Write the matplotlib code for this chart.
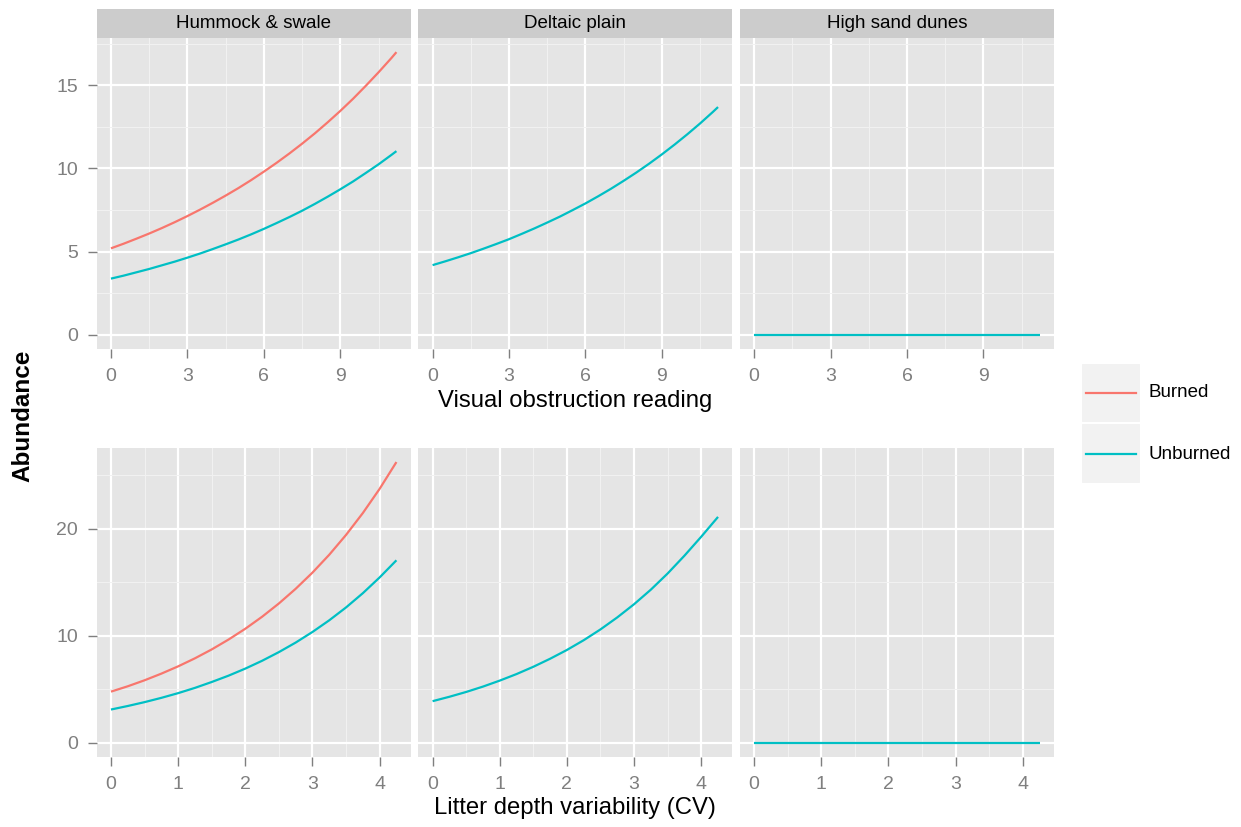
import matplotlib
matplotlib.use("Agg")
import matplotlib.pyplot as plt
from matplotlib.patches import Rectangle

plt.rcParams["font.family"] = ["Liberation Sans", "DejaVu Sans"]

habitats = ["Hummock & swale", "Deltaic plain", "High sand dunes"]
treatments = ["Burned", "Unburned"]
colors = {"Burned": "#F8766D", "Unburned": "#00BFC4"}

# top row: visual obstruction reading
vor_x = [0, 0.5, 1, 1.5, 2, 2.5, 3, 3.5, 4, 4.5, 5, 5.5, 6, 6.5, 7, 7.5,
         8, 8.5, 9, 9.5, 10, 10.5, 11, 11.2]
vor_burned_hs = [5.20, 5.48, 5.78, 6.09, 6.42, 6.77, 7.14, 7.53, 7.94, 8.37,
                 8.82, 9.30, 9.81, 10.34, 10.90, 11.49, 12.11, 12.77, 13.46,
                 14.19, 14.97, 15.78, 16.63, 16.99]
vor_unburned_hs = [3.38, 3.56, 3.76, 3.96, 4.18, 4.40, 4.64, 4.89, 5.16, 5.44,
                   5.73, 6.04, 6.37, 6.72, 7.08, 7.46, 7.87, 8.30, 8.75, 9.22,
                   9.73, 10.25, 10.81, 11.04]
vor_unburned_dp = [4.19, 4.42, 4.66, 4.91, 5.18, 5.46, 5.75, 6.07, 6.40, 6.75,
                   7.11, 7.50, 7.90, 8.33, 8.78, 9.26, 9.76, 10.29, 10.85,
                   11.44, 12.06, 12.71, 13.40, 13.69]
vor_unburned_hsd = [0, 0, 0, 0, 0, 0, 0, 0, 0, 0, 0, 0,
                    0, 0, 0, 0, 0, 0, 0, 0, 0, 0, 0, 0]

# bottom row: litter depth variability
ldv_x = [0, 0.25, 0.5, 0.75, 1, 1.25, 1.5, 1.75, 2, 2.25, 2.5, 2.75, 3,
         3.25, 3.5, 3.75, 4, 4.25]
ldv_burned_hs = [4.79, 5.29, 5.85, 6.47, 7.15, 7.90, 8.73, 9.65, 10.66, 11.78,
                 13.02, 14.39, 15.90, 17.57, 19.42, 21.46, 23.72, 26.22]
ldv_unburned_hs = [3.12, 3.45, 3.81, 4.21, 4.65, 5.14, 5.69, 6.28, 6.94, 7.67,
                   8.48, 9.37, 10.36, 11.45, 12.65, 13.98, 15.45, 17.05]
ldv_unburned_dp = [3.90, 4.31, 4.76, 5.26, 5.82, 6.43, 7.11, 7.86, 8.68, 9.59,
                   10.60, 11.72, 12.95, 14.31, 15.82, 17.48, 19.25, 21.10]
ldv_unburned_hsd = [0, 0, 0, 0, 0, 0, 0, 0, 0,
                    0, 0, 0, 0, 0, 0, 0, 0, 0]

vor_xticks = [0, 3, 6, 9]
vor_yticks = [0, 5, 10, 15]
ldv_xticks = [0, 1, 2, 3, 4]
ldv_yticks = [0, 10, 20]

rows = [
    {
        "x": vor_x,
        "series": [
            {"Burned": vor_burned_hs, "Unburned": vor_unburned_hs},
            {"Unburned": vor_unburned_dp},
            {"Unburned": vor_unburned_hsd},
        ],
        "xticks": vor_xticks, "yticks": vor_yticks,
        "xlabel": "Visual obstruction reading",
    },
    {
        "x": ldv_x,
        "series": [
            {"Burned": ldv_burned_hs, "Unburned": ldv_unburned_hs},
            {"Unburned": ldv_unburned_dp},
            {"Unburned": ldv_unburned_hsd},
        ],
        "xticks": ldv_xticks, "yticks": ldv_yticks,
        "xlabel": "Litter depth variability (CV)",
    },
]

W, H = 1241, 827
fig = plt.figure(figsize=(W / 100, H / 100), dpi=100)

panel_left = [96.7, 418.3, 739.8]
panel_w = 314.0
row_top = [38, 448]
row_bot = [349, 757]
xlabel_y = [401, 808]


def expand(lo, hi):
    pad = (hi - lo) * 0.05
    return lo - pad, hi + pad


def midpoints(ticks):
    step = ticks[1] - ticks[0]
    return [t - step / 2 for t in ticks] + [ticks[-1] + step / 2]


for r, row in enumerate(rows):
    ymax = max(max(v) for s in row["series"] for v in s.values())
    xlim = expand(min(row["x"]), max(row["x"]))
    ylim = expand(0, ymax)
    for c in range(3):
        ax = fig.add_axes([panel_left[c] / W, 1 - row_bot[r] / H,
                           panel_w / W, (row_bot[r] - row_top[r]) / H])
        ax.set_facecolor("#E5E5E5")
        for sp in ax.spines.values():
            sp.set_visible(False)
        for trt, yv in row["series"][c].items():
            ax.plot(row["x"], yv, color=colors[trt], lw=1.6, solid_capstyle="butt")
        ax.set_xticks(row["xticks"])
        ax.set_yticks(row["yticks"])
        ax.set_xticks(midpoints(row["xticks"]), minor=True)
        ax.set_yticks(midpoints(row["yticks"]), minor=True)
        ax.set_xlim(*xlim)
        ax.set_ylim(*ylim)
        ax.set_axisbelow(True)
        ax.grid(which="major", color="white", lw=1.6)
        ax.grid(which="minor", color="#F2F2F2", lw=0.7)
        ax.tick_params(which="minor", length=0)
        ax.tick_params(which="major", length=6.5, width=1.0, color="#7F7F7F",
                       labelcolor="#7F7F7F", labelsize=14, pad=7)
        if c > 0:
            ax.tick_params(axis="y", left=False, labelleft=False)

        if r == 0:
            sax = fig.add_axes([panel_left[c] / W, 1 - 38 / H, panel_w / W, 29 / H])
            sax.set_facecolor("#CCCCCC")
            for sp in sax.spines.values():
                sp.set_visible(False)
            sax.set_xticks([])
            sax.set_yticks([])
            sax.text(0.5, 0.5, habitats[c], ha="center", va="center",
                     fontsize=13.5, transform=sax.transAxes)

    fig.text(575 / W, 1 - xlabel_y[r] / H, row["xlabel"], ha="center",
             va="center", fontsize=17.2)

fig.text(23 / W, 1 - 416 / H, "Abundance", rotation=90, ha="center",
         va="center", fontsize=17.5, fontweight="bold")

# legend
lax = fig.add_axes([1081 / W, 1 - 484 / H, 60 / W, 121 / H])
lax.set_xlim(0, 1)
lax.set_ylim(0, 2)
lax.axis("off")
for i, trt in enumerate(treatments):
    y0 = 1 - i
    lax.add_patch(Rectangle((0, y0), 1, 1, facecolor="#F2F2F2",
                            edgecolor="white", lw=1.5))
    lax.plot([0.08, 0.92], [y0 + 0.5, y0 + 0.5], color=colors[trt], lw=1.6)
    fig.text(1149 / W, 1 - (393 + 61 * i) / H, trt, ha="left", va="center",
             fontsize=13.5)

fig.savefig("out.png", dpi=100)
